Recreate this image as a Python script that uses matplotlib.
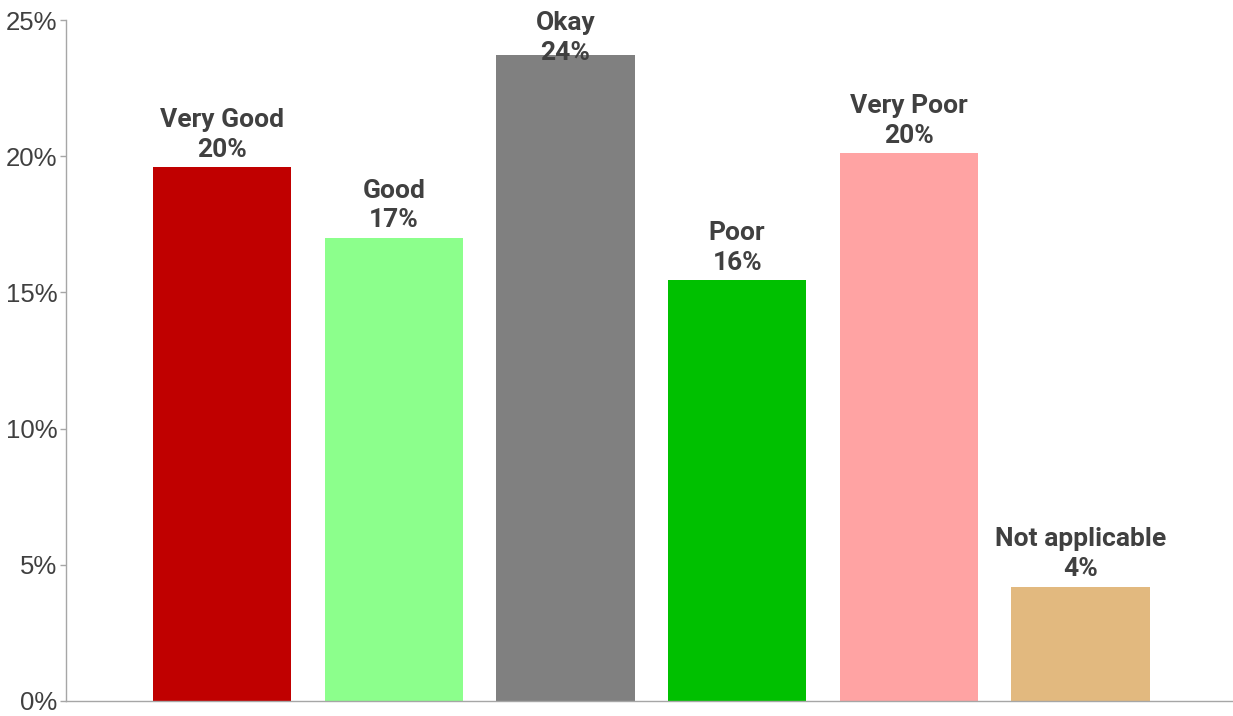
import matplotlib
matplotlib.use("Agg")
from matplotlib import pyplot as plt
import matplotlib.ticker as plticker

## Data
categories = ["Very Good", "Good", "Okay", "Poor", "Very Poor", "Not applicable"]
values = [19.6, 17.0, 23.7, 15.45, 20.1, 4.2]
shown = ["20%", "17%", "24%", "16%", "20%", "4%"]
colors = ["#C00000", "#8CFF8C", "#808080", "#00C000", "#FFA3A3", "#E2B97F"]

text_col = "#404040"
axis_col = "#A6A6A6"

fig = plt.figure(figsize=(12.33, 7.16), dpi=100)
ax = fig.add_axes([66 / 1233, 15 / 716, 1 - 66 / 1233, (701 - 20) / 716])

x = list(range(len(categories)))
ax.bar(x, values, width=0.805, color=colors, zorder=3, clip_on=False)

ax.set_xlim(-0.909, 5.888)
ax.set_ylim(0, 25)

# labels above bars, kept inside the plot at the top
for i, v in enumerate(values):
    y = min(v, 23.15)
    ax.annotate(categories[i] + "\n" + shown[i], (i, y), xytext=(0, 4),
                textcoords="offset points", ha="center", va="bottom",
                fontsize=19, fontweight="bold", color=text_col,
                family="Roboto", linespacing=1.3, zorder=4, annotation_clip=False)

ax.yaxis.set_major_locator(plticker.MultipleLocator(5))
ax.yaxis.set_major_formatter(plticker.FuncFormatter(lambda v, p: "%d%%" % v))
ax.tick_params(axis="y", length=4, width=1, color=axis_col, labelcolor=text_col,
               labelsize=18.5, pad=2)
for lab in ax.get_yticklabels():
    lab.set_family("Liberation Sans")
ax.set_xticks([])

for s in ["top", "right"]:
    ax.spines[s].set_visible(False)
ax.spines["left"].set_color(axis_col)
ax.spines["bottom"].set_color(axis_col)
ax.spines["left"].set_linewidth(1)
ax.spines["bottom"].set_linewidth(1)
ax.spines["bottom"].set_zorder(5)

fig.savefig("out.png", dpi=100)
